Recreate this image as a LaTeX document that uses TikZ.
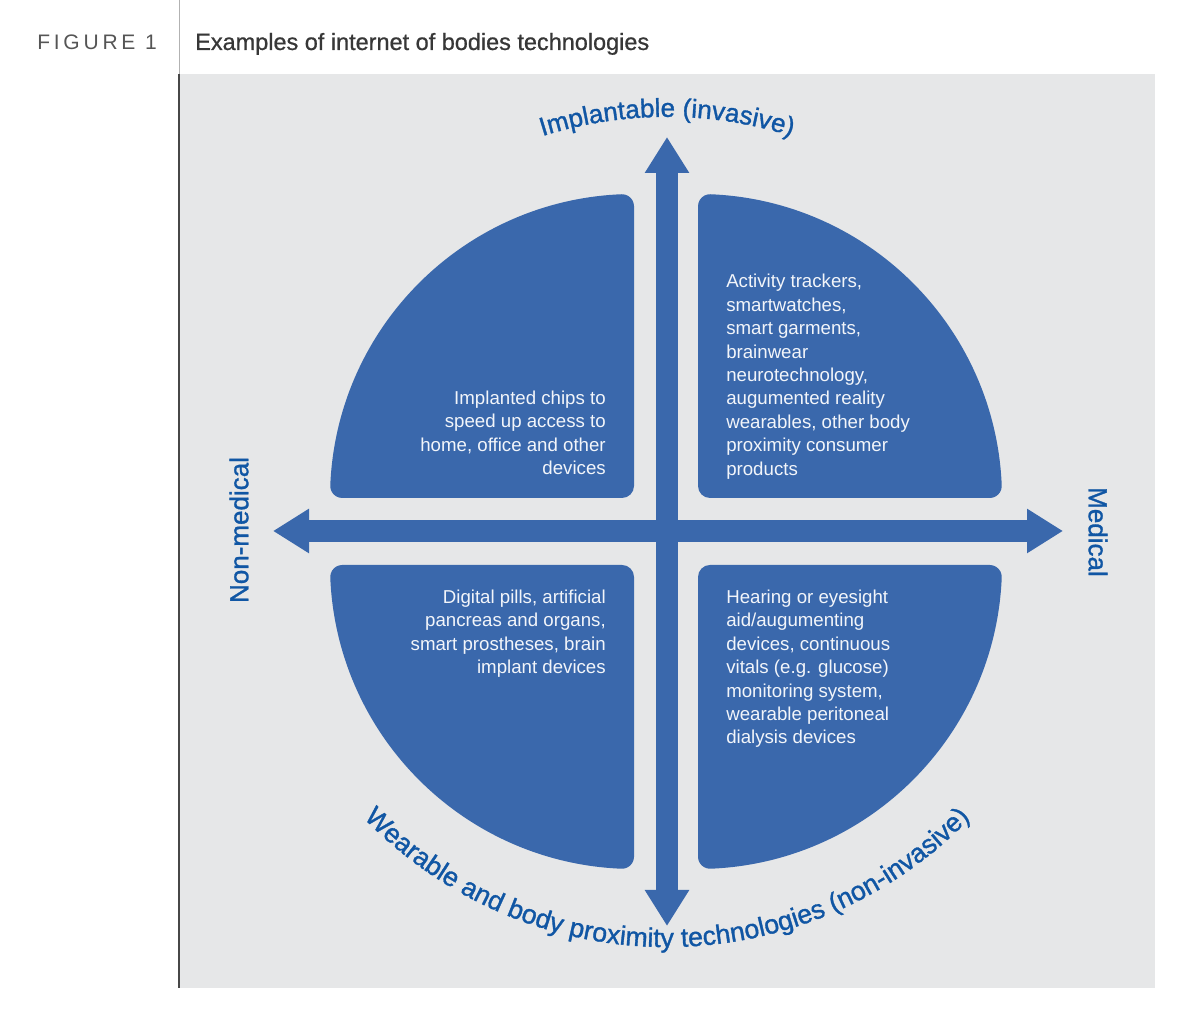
\documentclass[tikz,border=0pt]{standalone}
\usepackage{fontspec}
\setmainfont{Liberation Sans}
\usetikzlibrary{arrows.meta,decorations.text}
\definecolor{quadblue}{RGB}{58,104,172}
\definecolor{labelblue}{RGB}{16,86,164}
\definecolor{bggray}{RGB}{230,231,232}
\definecolor{titlegray}{RGB}{55,55,55}
\definecolor{figgray}{RGB}{85,85,85}
\definecolor{quadtext}{RGB}{242,245,250}
\newfontfamily\figfont[LetterSpace=18]{Liberation Sans}
\newfontfamily\labelfont[FakeBold=1.2]{Liberation Sans}
\newfontfamily\titlefont[FakeBold=0.8]{Liberation Sans}
\tikzset{
  quadpic/.pic={
    \fill[quadblue] (12,0) -- (291.75,0)
      arc[start angle=-90,end angle=2.355,radius=12]
      arc[start angle=2.355,end angle=87.645,radius=304]
      arc[start angle=87.645,end angle=180,radius=12]
      -- (0,12) arc[start angle=180,end angle=270,radius=12] -- cycle;
  },
  quadtxt/.style={inner sep=0pt, text=quadtext, font=\fontsize{14}{17.55}\selectfont},
  axislabel/.style={inner sep=0pt, text=labelblue, font=\labelfont\fontsize{19.5}{22}\selectfont},
  bigarrow/.style={draw=quadblue, line width=16.1pt,
    {Triangle[length=27pt,width=31.5pt]}-{Triangle[length=27pt,width=31.5pt]}},
}
\begin{document}
\begin{tikzpicture}[x=0.75pt,y=0.75pt]
\useasboundingbox (0,0) rectangle (1200,1023);
% background panel
\fill[bggray] (179,35) rectangle (1155,949);
\draw[color=black!30, line width=0.6pt] (179,1023) -- (179,949);
\draw[color=black!72, line width=1.6pt] (179,949) -- (179,35);
% header
\node[anchor=base west, inner sep=0pt, text=figgray, font=\figfont\fontsize{15.75}{18}\selectfont] (fig) at (37,973) {FIGURE 1};
\node[anchor=base west, inner sep=0pt, text=titlegray, font=\titlefont\fontsize{17.6}{20}\selectfont] (title) at (195,973) {Examples of internet of bodies technologies};
% quadrants
\pic at (698,525) {quadpic};
\pic[rotate=90] at (634,525) {quadpic};
\pic[rotate=180] at (634,458) {quadpic};
\pic[rotate=270] at (698,458) {quadpic};
% arrows
\coordinate (C) at (667,492);
\coordinate (up) at (667,886);
\coordinate (down) at (667,97);
\coordinate (left) at (273,492);
\coordinate (right) at (1063,492);
\draw[bigarrow] (down) -- (up);
\draw[bigarrow] (left) -- (right);
% quadrant texts
\node[quadtxt, anchor=north east, align=right] (tl) at (606,632.5)
  {Implanted chips to\\speed up access to\\home, office and other\\devices};
\node[quadtxt, anchor=north west, align=left] (tr) at (726,748.8)
  {Activity trackers,\\smartwatches,\\smart garments,\\brainwear\\neurotechnology,\\augumented reality\\wearables, other body\\proximity consumer\\products};
\node[quadtxt, anchor=north east, align=right] (bl) at (606,433.2)
  {Digital pills, artificial\\pancreas and organs,\\smart prostheses, brain\\implant devices};
\node[quadtxt, anchor=north west, align=left] (br) at (726,433.2)
  {Hearing or eyesight\\aid/augumenting\\devices, continuous\\vitals (e.g. glucose)\\monitoring system,\\wearable peritoneal\\dialysis devices};
% side labels
\node[axislabel, rotate=90] (nonmed) at (239,493) {Non-medical};
\node[axislabel, rotate=-90] (med) at (1098,491) {Medical};
% curved labels
\path[decorate, decoration={text along path, text align=center, text color=labelblue,
  text={|\labelfont\fontsize{19.5}{22}\selectfont|Implantable (invasive)}}]
  ([shift={(160:414)}]C) arc[start angle=160,end angle=20,radius=414];
\coordinate (C2) at (667,497);
\path[decorate, decoration={text along path, text align=center, text color=labelblue,
  text={|\labelfont\fontsize{20}{22}\selectfont|Wearable and body proximity technologies (non-invasive)}}]
  ([shift={(195:421)}]C2) arc[start angle=195,end angle=345,radius=421];
\end{tikzpicture}
\end{document}
